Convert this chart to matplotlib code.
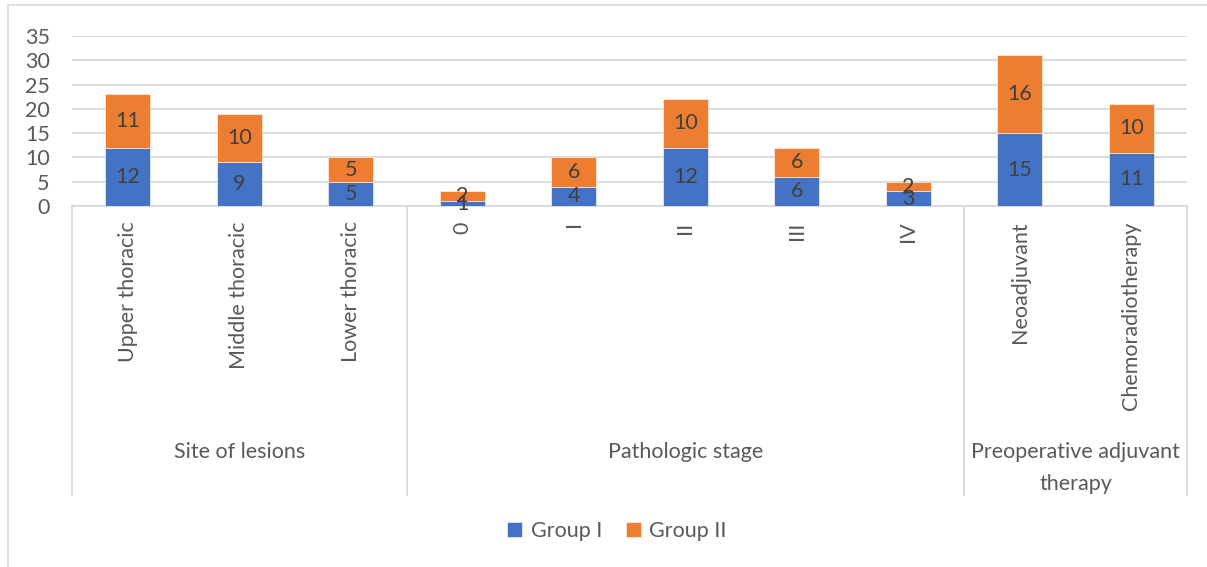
import matplotlib
matplotlib.use("Agg")
import matplotlib.pyplot as plt
from matplotlib.patches import Rectangle
from matplotlib.transforms import blended_transform_factory
import numpy as np

# Data
categories = ["Upper thoracic", "Middle thoracic", "Lower thoracic",
              "0", "I", "II", "III", "IV",
              "Neoadjuvant", "Chemoradiotherapy"]
group_i = [12, 9, 5, 1, 4, 12, 6, 3, 15, 11]
group_ii = [11, 10, 5, 2, 6, 10, 6, 2, 16, 10]
sections = ["Site of lesions", "Pathologic stage", "Preoperative adjuvant\ntherapy"]
section_sizes = [3, 5, 2]
series_names = ["Group I", "Group II"]
y_ticks = [0, 5, 10, 15, 20, 25, 30, 35]

BLUE = "#4472C4"
ORANGE = "#ED7D31"
GRID = "#D9D9D9"
TEXT = "#595959"
LABEL = "#404040"

plt.rcParams["font.family"] = ["Lato", "DejaVu Sans"]
FS = 15.5

W, H = 1207, 567
fig = plt.figure(figsize=(W / 100, H / 100), dpi=100)
ax = fig.add_axes([72 / W, 1 - 206 / H, (1187 - 72) / W, (206 - 36) / H])

x = np.arange(len(categories))
width = 0.4
b1 = ax.bar(x, group_i, width, color=BLUE, edgecolor="white", linewidth=0.4,
            label=series_names[0], zorder=3)
b2 = ax.bar(x, group_ii, width, bottom=group_i, color=ORANGE, edgecolor="white",
            linewidth=0.4, label=series_names[1], zorder=3)

for xi, a, b in zip(x, group_i, group_ii):
    ax.text(xi, a / 2, str(a), ha="center", va="center", color=LABEL,
            fontsize=FS, zorder=4)
    ax.text(xi, a + b / 2, str(b), ha="center", va="center", color=LABEL,
            fontsize=FS, zorder=4)

ax.set_xlim(-0.5, len(categories) - 0.5)
ax.set_ylim(0, 35)
ax.set_yticks(y_ticks)
ax.tick_params(axis="y", length=0, pad=16, labelsize=FS, labelcolor=TEXT)
ax.yaxis.grid(True, color=GRID, linewidth=1.3, zorder=0)
ax.set_axisbelow(True)

ax.set_xticks(x)
ax.set_xticklabels(categories, rotation=90, fontsize=FS, color=TEXT)
ax.tick_params(axis="x", length=0, pad=11)

for s in ["top", "right", "left"]:
    ax.spines[s].set_visible(False)
ax.spines["bottom"].set_color(GRID)
ax.spines["bottom"].set_linewidth(1.3)

# Section separators and section labels under the category labels
trans = blended_transform_factory(ax.transData, ax.transAxes)
bounds = np.concatenate([[0], np.cumsum(section_sizes)]) - 0.5
for bx in bounds:
    ax.plot([bx, bx], [0, -1.70], transform=trans, color=GRID, lw=1.3,
            clip_on=False, zorder=1)
for name, lo, hi in zip(sections, bounds[:-1], bounds[1:]):
    ax.text((lo + hi) / 2, -1.39, name, transform=trans, ha="center", va="top",
            fontsize=FS, color=TEXT, linespacing=1.75)

leg = fig.legend(handles=[b1, b2], loc="center", bbox_to_anchor=(617 / W, 1 - 531 / H),
                 ncol=2, frameon=False, fontsize=FS, handlelength=0.7,
                 handleheight=0.7, handletextpad=0.4, columnspacing=1.1)
for t in leg.get_texts():
    t.set_color(TEXT)

# Chart border
fig.patches.append(Rectangle((8 / W, -0.01), 1.0, 1 - 5 / H + 0.01,
                             transform=fig.transFigure, fill=False,
                             edgecolor=GRID, linewidth=1.2))

fig.savefig("out.png", dpi=100)
